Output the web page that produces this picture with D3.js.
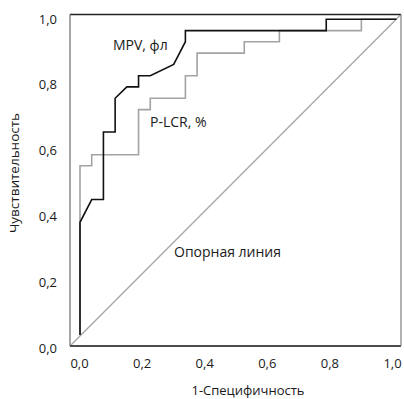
<!DOCTYPE html>
<html>
<head>
<meta charset="utf-8">
<script src="https://cdn.jsdelivr.net/npm/d3@7"></script>
<style>
    body { margin: 0; background: #fff; }
    text { font-family: "Open Sans", "Noto Sans", sans-serif; fill: #1a1a1a; }
</style>
</head>
<body>
<div id="roc-chart"></div>
<script>
// ROC data (1-specificity, sensitivity)
let mpvX = [0, 0, 0.037, 0.074, 0.074, 0.111, 0.111, 0.148, 0.185, 0.185, 0.222, 0.296, 0.333, 0.333, 0.778, 0.778, 1];
let mpvY = [0, 0.357, 0.429, 0.429, 0.643, 0.643, 0.75, 0.786, 0.786, 0.821, 0.821, 0.857, 0.929, 0.964, 0.964, 1, 1];

let plcrX = [0, 0, 0.037, 0.037, 0.185, 0.185, 0.222, 0.222, 0.333, 0.333, 0.370, 0.370, 0.519, 0.519, 0.630, 0.630, 0.889, 0.889, 1];
let plcrY = [0, 0.536, 0.536, 0.571, 0.571, 0.714, 0.714, 0.75, 0.75, 0.821, 0.821, 0.893, 0.893, 0.929, 0.929, 0.964, 0.964, 1, 1];

let tickValues = [0, 0.2, 0.4, 0.6, 0.8, 1];
let tickLabels = ["0,0", "0,2", "0,4", "0,6", "0,8", "1,0"];

let xTitle = "1-Специфичность";
let yTitle = "Чувствительность";
let seriesNames = ["MPV, фл", "P-LCR, %"];
let refName = "Опорная линия";

class RocChart {

    constructor(parentElement) {
        this.parentElement = parentElement;
        this.initVis();
    }

    initVis() {
        let vis = this;

        vis.width = 404;
        vis.height = 399;
        // frame box of the plot
        vis.box = {left: 70, right: 401, top: 14.5, bottom: 346};

        vis.svg = d3.select("#" + vis.parentElement).append("svg")
            .attr("width", vis.width)
            .attr("height", vis.height);

        // data range sits a bit inside the frame
        vis.x = d3.scaleLinear().domain([0, 1]).range([80, 396.5]);
        vis.y = d3.scaleLinear().domain([0, 1]).range([335, 19.3]);

        // label scales (labels are spread slightly differently from the ticks)
        vis.xLab = d3.scaleLinear().domain([0, 1]).range([79, 392]);
        vis.yLab = d3.scaleLinear().domain([0, 1]).range([348, 19]);

        // reference line, corner to corner of the frame
        vis.svg.append("line")
            .attr("x1", vis.box.left).attr("y1", vis.box.bottom)
            .attr("x2", vis.box.right).attr("y2", vis.box.top)
            .attr("stroke", "#a6a6a6")
            .attr("stroke-width", 1.3);

        vis.line = d3.line()
            .x(d => vis.x(d[0]))
            .y(d => vis.y(d[1]));

        vis.svg.append("path")
            .datum(d3.zip(plcrX, plcrY))
            .attr("fill", "none")
            .attr("stroke", "#a3a3a3")
            .attr("stroke-width", 1.6)
            .attr("d", vis.line);

        vis.svg.append("path")
            .datum(d3.zip(mpvX, mpvY))
            .attr("fill", "none")
            .attr("stroke", "#111")
            .attr("stroke-width", 1.6)
            .attr("d", vis.line);

        // frame
        let b = vis.box;
        vis.svg.append("line").attr("x1", b.left).attr("x2", b.right).attr("y1", b.top).attr("y2", b.top)
            .attr("stroke", "#222").attr("stroke-width", 1.3);
        vis.svg.append("line").attr("x1", b.left).attr("x2", b.right).attr("y1", b.bottom).attr("y2", b.bottom)
            .attr("stroke", "#111").attr("stroke-width", 1.5);
        vis.svg.append("line").attr("x1", b.left).attr("x2", b.left).attr("y1", b.top).attr("y2", b.bottom)
            .attr("stroke", "#777").attr("stroke-width", 1.3);
        vis.svg.append("line").attr("x1", b.right).attr("x2", b.right).attr("y1", b.top).attr("y2", b.bottom)
            .attr("stroke", "#888").attr("stroke-width", 1.3);

        // axes (labels only)
        vis.xAxis = d3.axisBottom(vis.xLab)
            .tickValues(tickValues)
            .tickFormat((d, i) => tickLabels[i])
            .tickSize(0)
            .tickPadding(0);

        vis.yAxis = d3.axisLeft(vis.yLab)
            .tickValues(tickValues)
            .tickFormat((d, i) => tickLabels[i])
            .tickSize(0)
            .tickPadding(0);

        let gx = vis.svg.append("g")
            .attr("class", "x-axis axis")
            .attr("transform", "translate(0,359)")
            .call(vis.xAxis);

        let gy = vis.svg.append("g")
            .attr("class", "y-axis axis")
            .attr("transform", "translate(57,0)")
            .call(vis.yAxis);

        [gx, gy].forEach(g => {
            g.select(".domain").remove();
            g.selectAll("text")
                .style("font-family", '"Open Sans", "Noto Sans", sans-serif')
                .style("font-size", "13px")
                .attr("fill", "#1a1a1a");
        });

        // titles
        vis.svg.append("text")
            .attr("x", 248)
            .attr("y", 395)
            .attr("text-anchor", "middle")
            .style("font-size", "13px")
            .text(xTitle);

        vis.svg.append("text")
            .attr("transform", "translate(19,173) rotate(-90)")
            .attr("text-anchor", "middle")
            .style("font-size", "13.5px")
            .text(yTitle);

        // series names on the plot
        vis.svg.append("text")
            .attr("x", 113).attr("y", 50)
            .style("font-size", "14px")
            .text(seriesNames[0]);

        vis.svg.append("text")
            .attr("x", 150).attr("y", 127)
            .style("font-size", "14px")
            .text(seriesNames[1]);

        vis.svg.append("text")
            .attr("x", 174).attr("y", 257)
            .style("font-size", "14px")
            .text(refName);
    }
}

new RocChart("roc-chart");
</script>
</body>
</html>
